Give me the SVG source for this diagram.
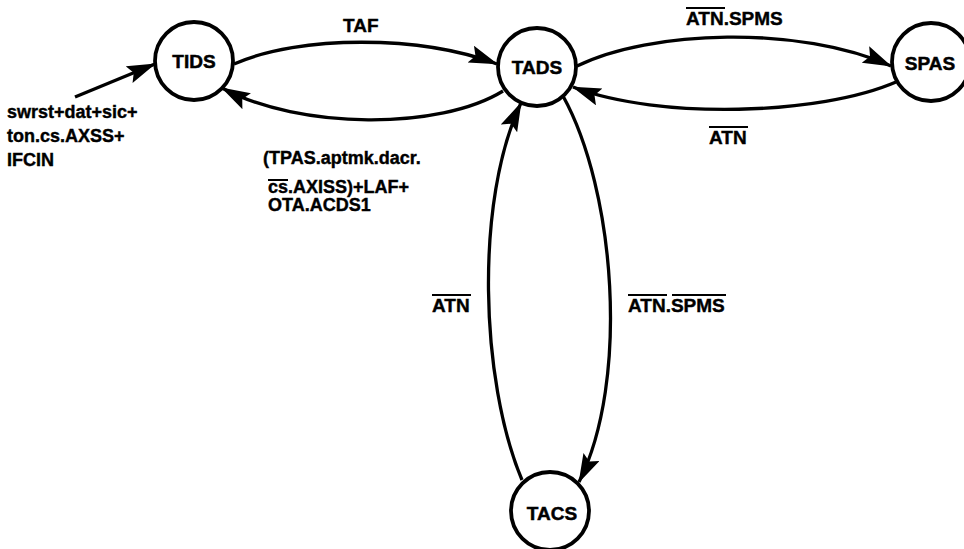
<svg xmlns="http://www.w3.org/2000/svg" width="964" height="549" viewBox="0 0 964 549">
<defs>
<style>
.node circle{fill:#fff;stroke:#000;stroke-width:3.8}
.node text{font-family:"Liberation Sans",Arial,sans-serif;font-weight:bold;font-size:19px;text-anchor:middle;fill:#000;stroke:#000;stroke-width:0.5}
.edge{fill:none;stroke:#000;stroke-width:3.3}
.lbl{font-family:"Liberation Sans",Arial,sans-serif;font-weight:bold;font-size:19px;fill:#000;stroke:#000;stroke-width:0.4}
.lbl2{font-family:"Liberation Sans",Arial,sans-serif;font-weight:bold;font-size:18px;fill:#000;stroke:#000;stroke-width:0.4}
.bar{stroke:#000;stroke-width:2}
</style>
<marker id="ah" markerUnits="userSpaceOnUse" markerWidth="32" markerHeight="20" refX="28" refY="9" orient="auto">
<path d="M0,0 L29,9 L0,18 L5,9 z" fill="#000"/>
</marker>
</defs>
<rect width="964" height="549" fill="#fff"/>
<g id="connectors">
<path class="edge" d="M 234 64 C 300 35, 420 35, 497 64" marker-end="url(#ah)"/>
<path class="edge" d="M 503 91 C 440 130, 300 130, 222 88" marker-end="url(#ah)"/>
<path class="edge" d="M 577 66 C 650 30, 800 25, 891 66" marker-end="url(#ah)"/>
<path class="edge" d="M 896 82 C 820 115, 660 120, 573 87" marker-end="url(#ah)"/>
<path class="edge" d="M 522 480 C 480 380, 475 200, 521 103" marker-end="url(#ah)"/>
<path class="edge" d="M 563 96 C 615 190, 630 380, 579 482" marker-end="url(#ah)"/>
<path class="edge" d="M 75 97 L 155 64" marker-end="url(#ah)"/>
</g>
<g id="TIDS" class="node"><circle cx="194" cy="61" r="39"/><text x="194" y="68">TIDS</text></g>
<g id="TADS" class="node"><circle cx="537" cy="67" r="39"/><text x="537" y="74">TADS</text></g>
<g id="SPAS" class="node"><circle cx="931" cy="62" r="39"/><text x="930" y="70">SPAS</text></g>
<g id="TACS" class="node"><circle cx="550" cy="511" r="39"/><text x="552" y="520">TACS</text></g>
<g id="labels">
<text class="lbl" x="343" y="32">TAF</text>
<text class="lbl" x="686" y="25">ATN.SPMS</text>
<line class="bar" x1="686" y1="8" x2="725" y2="8"/>
<text class="lbl" x="709" y="144">ATN</text>
<line class="bar" x1="709" y1="127" x2="748" y2="127"/>
<text class="lbl" x="432" y="312">ATN</text>
<line class="bar" x1="432" y1="295" x2="471" y2="295"/>
<text class="lbl" x="628" y="312">ATN.SPMS</text>
<line class="bar" x1="628" y1="295" x2="667" y2="295"/>
<line class="bar" x1="672" y1="295" x2="726" y2="295"/>
<text class="lbl2" x="7" y="118">swrst+dat+sic+</text>
<text class="lbl2" x="7" y="142">ton.cs.AXSS+</text>
<text class="lbl2" x="7" y="166">IFCIN</text>
<text class="lbl2" x="263" y="164">(TPAS.aptmk.dacr.</text>
<text class="lbl2" x="268" y="193">cs.AXISS)+LAF+</text>
<line class="bar" x1="268" y1="180" x2="288" y2="180"/>
<text class="lbl2" x="268" y="211">OTA.ACDS1</text>
</g>
</svg>
